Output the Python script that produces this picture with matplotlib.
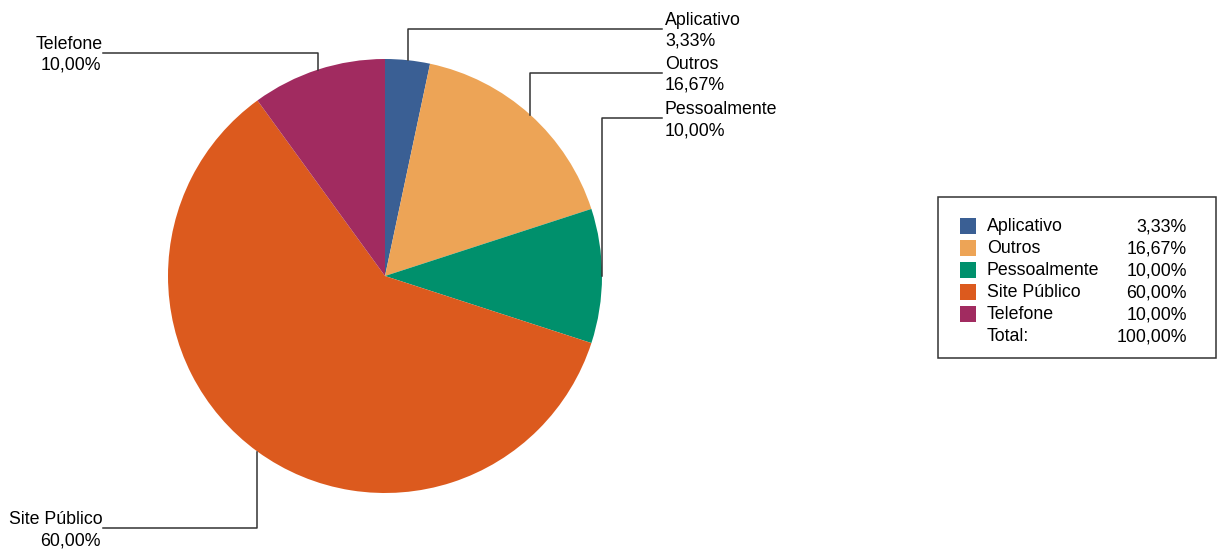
import numpy as np
import matplotlib
matplotlib.use("Agg")
import matplotlib.pyplot as plt
from matplotlib.patches import Rectangle

plt.rcParams['font.family'] = ['Liberation Sans', 'DejaVu Sans']

categorias = ['Aplicativo', 'Outros', 'Pessoalmente', 'Site Público', 'Telefone']
valores = [3.33, 16.67, 10.00, 60.00, 10.00]
rotulos_valor = ['3,33%', '16,67%', '10,00%', '60,00%', '10,00%']
rotulo_total = '100,00%'
cores = ['#3a5f94', '#eda456', '#00906c', '#dc5a1e', '#a12b60']

W, H = 1217, 551
fig = plt.figure(figsize=(W / 100, H / 100), dpi=100)
ax = fig.add_axes([0, 0, 1, 1])

cx, cy, r = 385, H - 276, 217
wedges, _ = ax.pie(valores, colors=cores, startangle=90, counterclock=False,
                   center=(cx, cy), radius=r,
                   wedgeprops=dict(linewidth=0))
ax.set_xlim(0, W)
ax.set_ylim(0, H)
ax.set_aspect('equal')
ax.axis('off')

# linhas de chamada: y da linha horizontal (pixel, de cima) e lado
linha_y = [29, 73, 118, 528, 53]
lado = ['d', 'd', 'd', 'e', 'e']
fs = 12.8
cor_linha = '#333333'
for w, nome, val, ly, ld in zip(wedges, categorias, rotulos_valor, linha_y, lado):
    ang = np.deg2rad((w.theta1 + w.theta2) / 2)
    px = cx + r * np.cos(ang)
    py = cy + r * np.sin(ang)
    y = H - ly
    if ld == 'd':
        ax.plot([px, px, 662], [py, y, y], color=cor_linha, lw=1.1)
        ax.text(665, y + 4, nome, fontsize=fs, ha='left', va='baseline')
        ax.text(665, y - 17, val, fontsize=fs, ha='left', va='baseline')
    else:
        ax.plot([px, px, 103], [py, y, y], color=cor_linha, lw=1.1)
        ax.text(103, y + 4, nome, fontsize=fs, ha='right', va='baseline')
        ax.text(101, y - 17, val, fontsize=fs, ha='right', va='baseline')

# legenda
ax.add_patch(Rectangle((938, H - 358), 278, 161, fill=False, edgecolor='#333333', lw=1.1))
for i, (nome, val, c) in enumerate(zip(categorias + ['Total:'], rotulos_valor + [rotulo_total], cores + [None])):
    yc = H - (226 + 22 * i)
    if c is not None:
        ax.add_patch(Rectangle((960, yc - 8), 16, 16, color=c, lw=0))
    ax.text(987, yc - 5, nome, fontsize=fs, ha='left', va='baseline')
    ax.text(1187, yc - 5, val, fontsize=fs, ha='right', va='baseline')

fig.savefig('out.png', dpi=100)
